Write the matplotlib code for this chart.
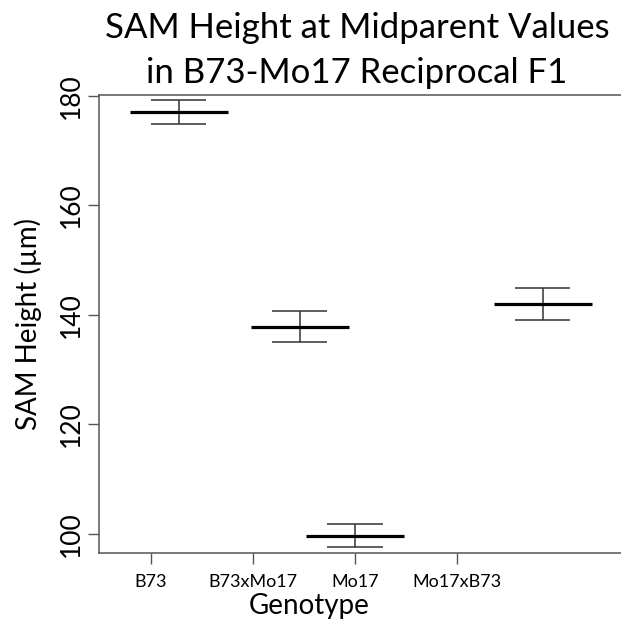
import matplotlib
matplotlib.use("Agg")
import matplotlib.pyplot as plt

# values
genotypes = ["B73", "B73xMo17", "Mo17", "Mo17xB73"]
tick_pos = [1, 2, 3, 4]
bar_pos = [1.27, 2.46, 3.0, 4.84]
means = [177.0, 137.7, 99.6, 142.0]
upper = [179.3, 140.6, 101.8, 144.9]
lower = [174.8, 135.0, 97.5, 139.1]
yticks = [100, 120, 140, 160, 180]

plt.rcParams['font.family'] = ['Lato', 'DejaVu Sans']

fig = plt.figure(figsize=(6.21, 6.30), dpi=100)
# axes runs past the right edge of the figure, as in the reference
ax = fig.add_axes([99 / 621, 1 - 553 / 630, 1.5, (553 - 95) / 630])

for x, m, lo, hi in zip(bar_pos, means, lower, upper):
    ax.vlines(x, lo, hi, color="#333333", lw=1.1)
    ax.hlines([lo, hi], x - 0.27, x + 0.27, color="#333333", lw=1.1)
    ax.hlines(m, x - 0.48, x + 0.48, color="black", lw=2.3)

ax.set_xlim(0.49, 0.49 + 1.5 * 621 / 102)
ax.set_ylim(96.47, 180.13)

ax.set_xticks(tick_pos)
ax.set_xticklabels(genotypes, fontsize=13)
ax.set_yticks(yticks)
ax.set_yticklabels([str(v) for v in yticks], fontsize=19, rotation=90, va="center")

for s in ["left", "top", "bottom"]:
    ax.spines[s].set_color("#555555")
    ax.spines[s].set_linewidth(1.1)
ax.spines["right"].set_visible(False)
ax.tick_params(axis="both", length=8, width=1.0, color="#555555")
ax.tick_params(axis="x", pad=7)
ax.tick_params(axis="y", pad=3)

fig.text(357 / 621, 1 - 28 / 630, "SAM Height at Midparent Values", ha="center", va="center", fontsize=25)
fig.text(357 / 621, 1 - 73 / 630, "in B73-Mo17 Reciprocal F1", ha="center", va="center", fontsize=25)
fig.text(309 / 621, 1 - 606 / 630, "Genotype", ha="center", va="center", fontsize=20)
fig.text(28 / 621, 1 - 324 / 630, "SAM Height (\u00b5m)", ha="center", va="center", rotation=90, fontsize=20)

fig.savefig("out.png", dpi=100)
